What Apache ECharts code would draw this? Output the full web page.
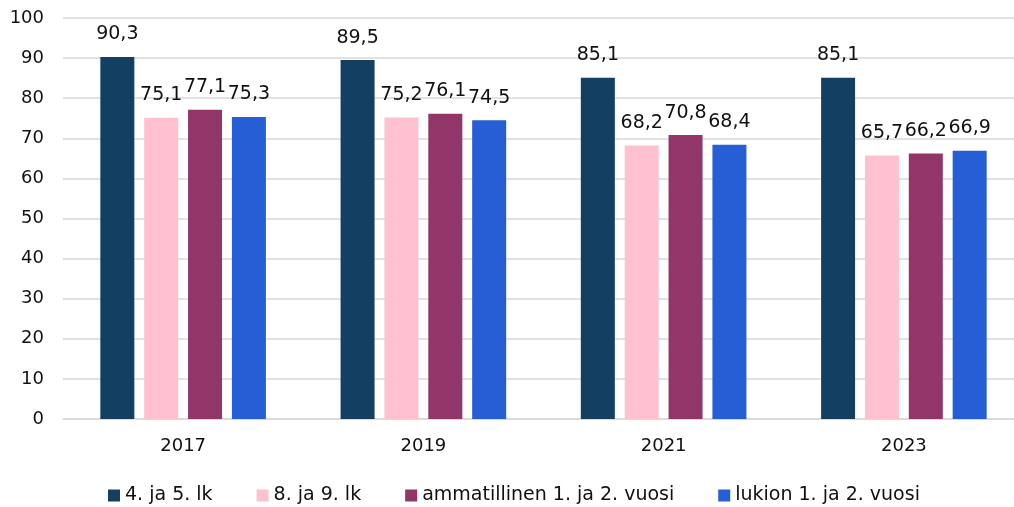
<!DOCTYPE html>
<html>
<head>
<meta charset="utf-8">
<script src="https://cdn.jsdelivr.net/npm/echarts@6/dist/echarts.min.js"></script>
<style>
  html, body { margin: 0; padding: 0; background: #fff; overflow: hidden; }
  #chart { width: 1024px; height: 507px; }
</style>
</head>
<body>
<div id="chart"></div>
<script>
const years = ["2017", "2019", "2021", "2023"];
const seriesNames = ["4. ja 5. lk", "8. ja 9. lk", "ammatillinen 1. ja 2. vuosi", "lukion 1. ja 2. vuosi"];
const lk45 = [90.3, 89.5, 85.1, 85.1];
const lk89 = [75.1, 75.2, 68.2, 65.7];
const ammatillinen = [77.1, 76.1, 70.8, 66.2];
const lukio = [75.3, 74.5, 68.4, 66.9];
const colors = ["#133f63", "#ffc0d0", "#923569", "#265fd5"];

const font = "DejaVu Sans";
const values = [lk45, lk89, ammatillinen, lukio];

// the plot runs past the right edge of the window, like in the original
let chart = echarts.init(document.getElementById("chart"));
chart.setOption({
  animation: false,
  color: colors,
  textStyle: { fontFamily: font },
  grid: { left: 63, right: 0, top: 18, bottom: 88 },
  legend: {
    top: 481,
    left: 103,
    icon: "rect",
    itemWidth: 12,
    itemHeight: 12,
    itemGap: 44,
    textStyle: { fontSize: 19, color: "#111", fontFamily: font },
    data: seriesNames
  },
  xAxis: {
    type: "category",
    data: years,
    axisLine: { lineStyle: { color: "#d9d9d9", width: 1.5 } },
    axisTick: { show: false },
    axisLabel: { fontSize: 18, color: "#111", margin: 18 }
  },
  yAxis: {
    type: "value",
    min: 0,
    max: 100,
    interval: 10,
    splitLine: { lineStyle: { color: "#d9d9d9", width: 1.5 } },
    axisLabel: { fontSize: 18, color: "#111", margin: 19 }
  },
  series: seriesNames.map(function (name, i) {
    return {
      name: name,
      type: "bar",
      data: values[i],
      barWidth: 34,
      barGap: "29%",
      label: {
        show: true,
        position: "top",
        distance: 13,
        fontSize: 19,
        color: "#111",
        formatter: function (p) {
          return String(p.value).replace(".", ",");
        }
      }
    };
  })
});
</script>
</body>
</html>
